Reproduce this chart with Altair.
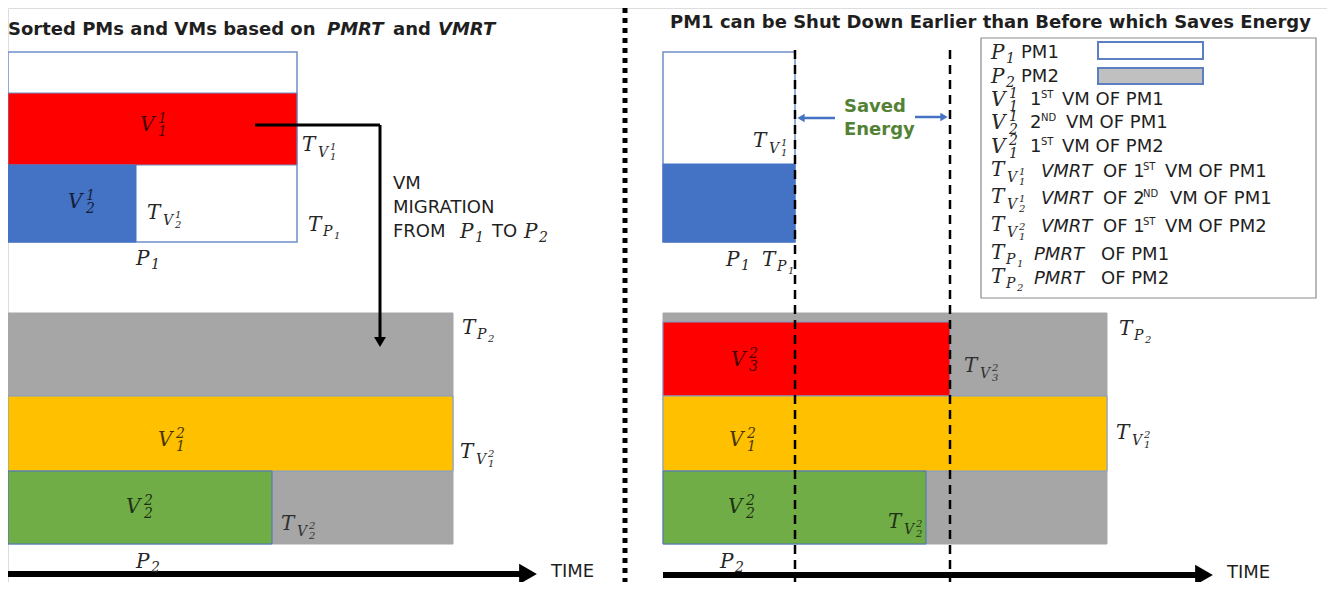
import altair as alt
import pandas as pd

# ---------------- diagram content ----------------
# blocks (PM boxes, VM bars, legend frame and swatches)
rect_x0 = [8, 8, 8, 8, 8, 8, 663, 663, 663, 663, 663, 663, 981, 1098, 1098]
rect_x1 = [297, 297, 136, 453, 453, 272, 795, 795, 1107, 950, 1107, 926, 1316, 1203, 1203]
rect_y0 = [52, 93, 165, 313, 396, 471, 52, 164, 313, 322, 396, 471, 38, 42, 68]
rect_y1 = [242, 165, 242, 544, 471, 544, 242, 242, 544, 396, 471, 544, 298, 59, 84]
rect_fill = ["#FFFFFF", "#FF0000", "#4472C4", "#A6A6A6", "#FFC000", "#70AD47",
             "#FFFFFF", "#4472C4", "#A6A6A6", "#FF0000", "#FFC000", "#70AD47",
             "#FFFFFF", "#FFFFFF", "#C0C0C0"]
rect_stroke = ["#6F8FC9", "#6F8FC9", "#4472C4", "#A6A6A6", "#7F9CCB", "#4472C4",
               "#6F8FC9", "#4472C4", "#A6A6A6", "#7F9CCB", "#7F9CCB", "#4472C4",
               "#8C8C8C", "#5B7FC0", "#5B7FC0"]
rect_sw = [1.5, 1, 1, 1, 1, 1, 1.5, 1, 1, 1, 1, 1, 1.2, 2, 2]

# connectors
line_x0 = [255, 380, 8, 663, 835, 915]
line_x1 = [380, 380, 522, 1196, 801, 944]
line_y0 = [125, 125, 574, 575, 118, 117]
line_y1 = [125, 339, 574, 575, 118, 117]
line_color = ["#000000", "#000000", "#000000", "#000000", "#4472C4", "#4472C4"]
line_w = [3, 3, 6, 6, 2.5, 2.5]

dash_x = [795, 950]
dash_y0 = [50, 50]
dash_y1 = [589, 589]

divider_x = [625]
divider_y0 = [8]
divider_y1 = [589]

head_x = [380, 528, 1204, 801, 944]
head_y = [342, 574, 575, 118, 117]
head_shape = ["triangle-down", "triangle-right", "triangle-right", "triangle-left", "triangle-right"]
head_size = [140, 420, 420, 70, 70]
head_color = ["#000000", "#000000", "#000000", "#4472C4", "#4472C4"]

# math symbols (P, V, T with sub/superscripts)
sym_label = ["V_1^1", "V_2^1", "T_V_1^1", "T_V_2^1", "T_P_1", "P_1",
             "V_1^2", "V_2^2", "T_P_2", "T_V_1^2", "T_V_2^2", "P_2",
             "P_1", "P_2",
             "T_V_1^1", "P_1", "T_P_1", "V_3^2", "V_1^2", "V_2^2",
             "T_V_3^2", "T_P_2", "T_V_1^2", "T_V_2^2", "P_2",
             "P_1", "P_2", "V_1^1", "V_2^1", "V_1^2",
             "T_V_1^1", "T_V_2^1", "T_V_1^2", "T_P_1", "T_P_2"]
sym_x = [140, 68, 302, 147, 308, 136,
         158, 126, 462, 460, 281, 136,
         460, 524,
         753, 726, 762, 731, 729, 728,
         964, 1119, 1116, 888, 720,
         991, 991, 991, 991, 991,
         991, 991, 991, 991, 991]
sym_y = [125, 202, 145, 213, 225, 259,
         440, 507, 328, 452, 524, 562,
         232, 232,
         141, 260, 260, 360, 440, 507,
         366, 329, 433, 522, 562,
         53, 77, 100, 123, 147,
         170, 197, 225, 253, 277]
sym_on_fill = [1, 1, 0, 0, 0, 0,
               1, 1, 0, 0, 1, 0,
               0, 0,
               0, 0, 0, 1, 1, 1,
               1, 0, 0, 1, 0,
               0, 0, 0, 0, 0,
               0, 0, 0, 0, 0]

# plain texts
txt_text = ["Sorted PMs and VMs based on", "PMRT", "and", "VMRT",
            "PM1 can be Shut Down Earlier than Before which Saves Energy",
            "VM", "MIGRATION", "FROM", "TO", "TIME", "TIME", "Saved", "Energy",
            "PM1", "PM2",
            "1", "ST", "VM OF PM1",
            "2", "ND", "VM OF PM1",
            "1", "ST", "VM OF PM2",
            "VMRT", "OF 1", "ST", "VM OF PM1",
            "VMRT", "OF 2", "ND", "VM OF PM1",
            "VMRT", "OF 1", "ST", "VM OF PM2",
            "PMRT", "OF PM1",
            "PMRT", "OF PM2"]
txt_x = [8, 327, 393, 438,
         670,
         393, 393, 393, 492, 551, 1227, 844, 844,
         1021, 1021,
         1030, 1041, 1062,
         1030, 1041, 1066,
         1030, 1041, 1062,
         1041, 1103, 1143, 1165,
         1041, 1103, 1143, 1170,
         1041, 1103, 1143, 1165,
         1034, 1101,
         1034, 1101]
txt_y = [30, 30, 30, 30,
         23,
         184, 208, 232, 232, 572, 573, 107, 130,
         53, 77,
         100, 95, 100,
         123, 118, 123,
         147, 142, 147,
         172, 172, 167, 172,
         199, 199, 194, 199,
         227, 227, 222, 227,
         255, 255,
         279, 279]
txt_style = ["bold", "boldit", "bold", "boldit",
             "bold",
             "sans", "sans", "sans", "sans", "sans", "sans", "green", "green",
             "sans", "sans",
             "sans", "sup", "sans",
             "sans", "sup", "sans",
             "sans", "sup", "sans",
             "sansit", "sans", "sup", "sans",
             "sansit", "sans", "sup", "sans",
             "sansit", "sans", "sup", "sans",
             "sansit", "sans",
             "sansit", "sans"]

# ---------------- build tables ----------------
rects = pd.DataFrame(dict(x0=rect_x0, x1=rect_x1, y0=rect_y0, y1=rect_y1,
                          fill=rect_fill, stroke=rect_stroke, sw=rect_sw))
lines = pd.DataFrame(dict(x0=line_x0, x1=line_x1, y0=line_y0, y1=line_y1,
                          c=line_color, w=line_w))
dashes = pd.DataFrame(dict(x=dash_x, y0=dash_y0, y1=dash_y1))
divider = pd.DataFrame(dict(x=divider_x, y0=divider_y0, y1=divider_y1))
heads = pd.DataFrame(dict(x=head_x, y=head_y, shape=head_shape, s=head_size, c=head_color))


def math_pieces(label, x, y):
    out = []
    if label.startswith("T_"):
        rest = label[2:]
        out.append((x, y, "T", 20))
        if rest[0] == "V":
            out.append((x + 16, y + 8, "V", 14))
            out.append((x + 28, y + 2, rest[4], 10))
            out.append((x + 28, y + 12, rest[2], 10))
        else:
            out.append((x + 15, y + 7, "P", 14))
            out.append((x + 26, y + 11, rest[2], 10))
    elif label[0] == "V":
        out.append((x, y, "V", 20))
        out.append((x + 18, y - 6, label[4], 14))
        out.append((x + 18, y + 7, label[2], 14))
    else:
        out.append((x, y, "P", 20))
        out.append((x + 15, y + 6, label[2], 14))
    return out


rows = []
for lab, x, y, f in zip(sym_label, sym_x, sym_y, sym_on_fill):
    for px, py, t, s in math_pieces(lab, x, y):
        rows.append(dict(x=px, y=py, t=t, s=s,
                         c="#000000" if f else "#262626",
                         o=0.72 if f else 1.0, style="math"))
size_of = {"bold": 18, "boldit": 18, "sans": 18, "sansit": 18, "sup": 10, "green": 18}
color_of = {"green": "#548235"}
for t, x, y, st in zip(txt_text, txt_x, txt_y, txt_style):
    rows.append(dict(x=x, y=y, t=t, s=size_of[st], c=color_of.get(st, "#1F1F1F"), o=1.0, style=st))
texts = pd.DataFrame(rows)

XS = alt.Scale(domain=[8, 1327], nice=False, zero=False)
YS = alt.Scale(domain=[8, 582], reverse=True, nice=False, zero=False)


def X(f):
    return alt.X(f, type="quantitative", scale=XS, axis=None)


def Y(f):
    return alt.Y(f, type="quantitative", scale=YS, axis=None)


rect_layer = alt.Chart(rects).mark_rect().encode(
    x=X("x0"), x2="x1", y=Y("y0"), y2="y1",
    color=alt.Color("fill:N", scale=None),
    stroke=alt.Stroke("stroke:N", scale=None),
    strokeWidth=alt.StrokeWidth("sw:Q", scale=None),
)

line_layer = alt.Chart(lines).mark_rule(strokeCap="butt").encode(
    x=X("x0"), x2="x1", y=Y("y0"), y2="y1",
    color=alt.Color("c:N", scale=None),
    strokeWidth=alt.StrokeWidth("w:Q", scale=None),
)

dash_layer = alt.Chart(dashes).mark_rule(strokeDash=[9, 6], strokeWidth=2.5, color="#000000").encode(
    x=X("x"), y=Y("y0"), y2="y1")

divider_layer = alt.Chart(divider).mark_rule(strokeDash=[5, 5], strokeWidth=5, color="#000000").encode(
    x=X("x"), y=Y("y0"), y2="y1")

head_layer = alt.Chart(heads).mark_point(filled=True, opacity=1).encode(
    x=X("x"), y=Y("y"),
    shape=alt.Shape("shape:N", scale=None),
    size=alt.Size("s:Q", scale=None),
    color=alt.Color("c:N", scale=None),
)

fonts = {
    "math": dict(font="DejaVu Serif", fontStyle="italic"),
    "bold": dict(font="DejaVu Sans", fontWeight="bold"),
    "boldit": dict(font="DejaVu Sans", fontWeight="bold", fontStyle="italic"),
    "sans": dict(font="DejaVu Sans"),
    "sansit": dict(font="DejaVu Sans", fontStyle="italic"),
    "sup": dict(font="DejaVu Sans"),
    "green": dict(font="DejaVu Sans", fontWeight="bold"),
}

text_layers = []
for st, kw in fonts.items():
    text_layers.append(
        alt.Chart(texts).transform_filter(alt.datum.style == st)
        .mark_text(align="left", baseline="middle", **kw)
        .encode(x=X("x"), y=Y("y"), text="t:N",
                size=alt.Size("s:Q", scale=None),
                color=alt.Color("c:N", scale=None),
                opacity=alt.Opacity("o:Q", scale=None))
    )

chart = alt.layer(rect_layer, line_layer, head_layer, *text_layers, dash_layer, divider_layer).properties(
    width=1319, height=574, padding=0, autosize=alt.AutoSizeParams(type="none")
).configure_view(stroke=None).configure(background="#FFFFFF")

chart.save("out.html", embed_options={"renderer": "svg", "actions": False})
